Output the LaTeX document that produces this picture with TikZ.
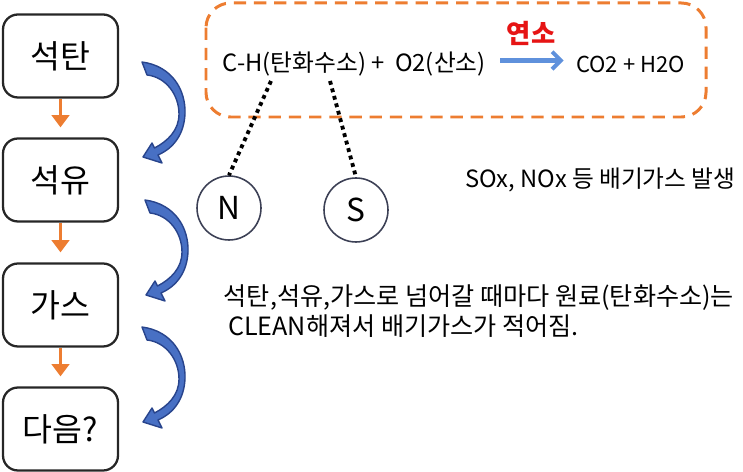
\documentclass[tikz,border=0pt]{standalone}
\usepackage{fontspec}
\setmainfont{Noto Sans CJK KR}
\usetikzlibrary{arrows.meta,positioning}
\definecolor{fuel_orange}{RGB}{237,125,49}
\definecolor{arrow_blue}{RGB}{72,112,196}
\definecolor{arrow_edge}{RGB}{40,68,140}
\definecolor{rx_blue}{RGB}{95,145,220}
\definecolor{ring_gray}{RGB}{60,64,85}
\definecolor{burn_red}{RGB}{230,20,20}

\tikzset{
  fuelbox/.style={draw=black!85, line width=1.3pt, rounded corners=8.5pt,
    minimum width=2.3cm, minimum height=1.66cm, font=\fontsize{18.5}{22}\selectfont},
  atom/.style={circle, draw=ring_gray, line width=0.9pt, minimum size=1.28cm,
    inner sep=0pt, font=\fontsize{18}{21}\selectfont},
  steparrow/.style={draw=fuel_orange, line width=2pt,
    -{Triangle[width=10pt,length=7pt]}, shorten >=5.7pt},
  bendarrow/.style={fill=arrow_blue, draw=arrow_edge, line width=0.8pt, line join=round},
  tie/.style={line width=2.2pt, dash pattern=on 2.2pt off 2.2pt},
  plain/.style={font=\fontsize{13.5}{16}\selectfont, inner sep=0pt},
}

\begin{document}
\begin{tikzpicture}[x=0.02cm, y=-0.02cm]
        \useasboundingbox (0,0) rectangle (743,472);
        % fuels, top to bottom
        \node[fuelbox] (coal) at (60.5,56) {석탄};
        \node[fuelbox] (oil) at (60.5,180) {석유};
        \node[fuelbox] (gas) at (60.5,305) {가스};
        \node[fuelbox] (next) at (60.5,429) {다음?};
        \draw[steparrow] (coal) -- (oil);
        \draw[steparrow] (oil) -- (gas);
        \draw[steparrow] (gas) -- (next);
        % curved blue arrows
        \foreach \dx/\dy in {142/62,145/200,142/327}
          \filldraw[bendarrow, shift={(\dx,\dy)}]
            (0,0) .. controls (30,4) and (44,28) .. (43,52)
            .. controls (42,72) and (32,86) .. (16,93)
            -- (20,101) -- (1,95) -- (10,81) -- (12.5,86)
            .. controls (26,79) and (37,68) .. (37,52)
            .. controls (37,33) and (24,15) .. (5,13) -- cycle;
        % combustion
        \draw[fuel_orange, line width=1.7pt, dash pattern=on 7pt off 4.5pt,
          rounded corners=14pt] (206,3) rectangle (706,117);
        \node[plain, anchor=west] (fuel) at (222.5,64) {C-H(탄화수소) +\ \ O2(산소)};
        \node[plain, anchor=west, font=\fontsize{12.5}{15}\selectfont] (prod) at (576,64) {CO2 + H2O};
        \draw[rx_blue, line width=2.3pt, -{Straight Barb[length=5pt,width=10pt]},
          shorten <=8pt, shorten >=7pt] ([yshift=2pt]fuel.east) -- ([yshift=2pt]prod.west)
          node[midway, above=4pt, burn_red, font=\fontsize{15}{18}\selectfont\bfseries] (burn) {연소};
        \coordinate (hc) at (271,81);
        \coordinate (hs) at (330,81);
        \node[atom] (N) at (229,208) {N};
        \node[atom] (S) at (356,210) {S};
        \draw[tie] (hc) -- (N.north);
        \draw[tie] (hs) -- (S.north);
        \node[plain, anchor=west] (exhaust) at (465,180) {SOx, NOx 등 배기가스 발생};
        \node[plain, anchor=west, align=left, font=\fontsize{14.3}{17}\selectfont] (note) at (223.5,311)
          {석탄,석유,가스로 넘어갈 때마다 원료(탄화수소)는\\\hspace{2.5pt}CLEAN해져서 배기가스가 적어짐.};
      \end{tikzpicture}
\end{document}
